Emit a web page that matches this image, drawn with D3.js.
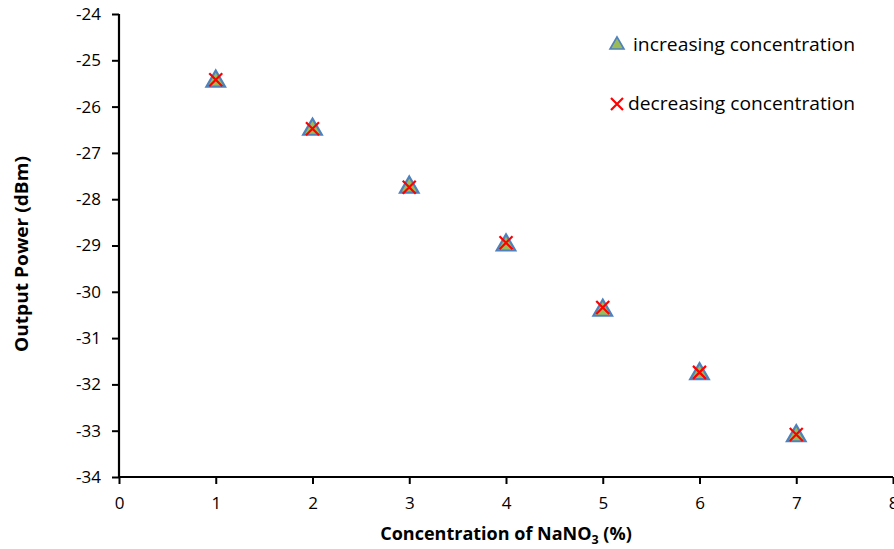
<!DOCTYPE html>
<html><head><meta charset="utf-8">
<script src="https://cdn.jsdelivr.net/npm/d3@7"></script>
<style>body{margin:0;background:#fff}svg{display:block}text{font-family:"Open Sans",sans-serif}</style>
</head><body>
<svg id="c" width="894" height="549"></svg>
<script>
const concentration = [1, 2, 3, 4, 5, 6, 7];
const increasing = [-25.43, -26.47, -27.72, -28.97, -30.38, -31.75, -33.09];
const decreasing = [-25.42, -26.48, -27.74, -28.94, -30.34, -31.74, -33.08];
const xTicks = [0, 1, 2, 3, 4, 5, 6, 7, 8];
const yTicks = [-24, -25, -26, -27, -28, -29, -30, -31, -32, -33, -34];

const svg = d3.select("#c");
const x = d3.scaleLinear().domain([0, 8]).range([119, 893]);
const y = d3.scaleLinear().domain([-34, -24]).range([477, 14]);

const xAxis = svg.append("g").attr("transform", "translate(0,477)")
  .call(d3.axisBottom(x).tickValues(xTicks).tickSize(7).tickPadding(13).tickFormat(d3.format("d")));
const yAxis = svg.append("g").attr("transform", "translate(119,0)")
  .call(d3.axisLeft(y).tickValues(yTicks).tickSize(7).tickPadding(11).tickFormat(d => d3.format("d")(d).replace("−", "-")));
[xAxis, yAxis].forEach(a => {
  a.select(".domain").attr("stroke", "#000").attr("stroke-width", 2.2);
  a.selectAll(".tick line").attr("stroke", "#000").attr("stroke-width", 2);
  a.selectAll(".tick text").attr("font-size", 17).attr("fill", "#000").attr("font-family", "'Open Sans', sans-serif");
});
xAxis.select(".domain").attr("d", "M119,0H893");
yAxis.select(".domain").attr("d", "M0,14V477");

const tri = d3.symbol().type(d3.symbolTriangle).size(150);
function triangle(g) {
  g.append("path").attr("d", tri).attr("fill", "#9bbb59").attr("stroke", "#4f81bd").attr("stroke-width", 2.2).attr("stroke-linejoin", "miter");
}
function cross(g, s) {
  g.append("path").attr("d", `M${-s},${-s}L${s},${s}M${-s},${s}L${s},${-s}`).attr("stroke", "#ff0000").attr("stroke-width", 2.2).attr("fill", "none");
}

svg.append("g").selectAll("g").data(concentration.map((c, i) => [c, increasing[i]])).join("g")
  .attr("transform", d => `translate(${x(d[0])},${y(d[1]) + 1})`).each(function () { triangle(d3.select(this)); });
svg.append("g").selectAll("g").data(concentration.map((c, i) => [c, decreasing[i]])).join("g")
  .attr("transform", d => `translate(${x(d[0])},${y(d[1])})`).each(function () { cross(d3.select(this), 6.5); });

// legend
const l1 = svg.append("g").attr("transform", "translate(617,45)");
triangle(l1.append("g").attr("transform", "scale(0.75)"));
svg.append("text").attr("x", 633).attr("y", 51).attr("font-size", 17.5).attr("fill", "#000")
  .attr("textLength", 222).attr("lengthAdjust", "spacingAndGlyphs").text("increasing concentration");
const l2 = svg.append("g").attr("transform", "translate(617,104)");
cross(l2, 6);
svg.append("text").attr("x", 628).attr("y", 110).attr("font-size", 17.5).attr("fill", "#000")
  .attr("textLength", 227).attr("lengthAdjust", "spacingAndGlyphs").text("decreasing concentration");

// axis titles
const xt = svg.append("text").attr("x", 506).attr("y", 540).attr("text-anchor", "middle")
  .attr("font-size", 18).attr("font-weight", "bold").attr("fill", "#000");
xt.append("tspan").text("Concentration of NaNO");
xt.append("tspan").attr("font-size", 12.5).attr("dy", 4).text("3");
xt.append("tspan").attr("dy", -4).text(" (%)");
svg.append("text").attr("transform", "translate(28,254) rotate(-90)").attr("text-anchor", "middle")
  .attr("font-size", 18).attr("font-weight", "bold").attr("fill", "#000")
  .attr("textLength", 196).attr("lengthAdjust", "spacingAndGlyphs").text("Output Power (dBm)");
</script>
</body></html>
